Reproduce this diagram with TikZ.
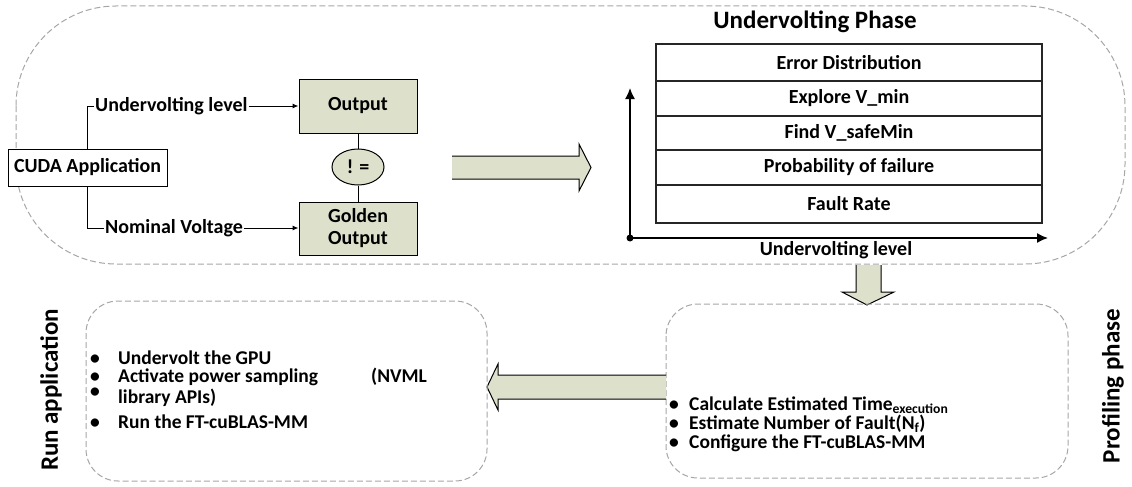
\documentclass[tikz,border=0pt]{standalone}
\usepackage{fontspec}
\setmainfont{Carlito}
\usetikzlibrary{arrows.meta,shapes.geometric}
\definecolor{sage}{HTML}{DDE0CB}
\definecolor{dashgray}{HTML}{A6A6A6}
\begin{document}
\begin{tikzpicture}[x=1pt,y=-1pt,
  every node/.style={font=\fontsize{20}{20}\selectfont\bfseries, inner sep=0pt},
  phasebox/.style={draw=dashgray, line width=1pt, dash pattern=on 6pt off 3pt},
  plainbox/.style={draw, line width=1pt, fill=white},
  sagebox/.style={draw, line width=1pt, fill=sage, align=center},
  rowbox/.style={draw=black!85, line width=1.3pt, minimum width=386pt},
  link/.style={line width=1pt},
  linkarrow/.style={line width=1pt, -{Latex[length=6pt,width=5pt]}},
  axis/.style={line width=1.5pt, -{Latex[length=11pt,width=10pt]}},
  bigtitle/.style={font=\fontsize{25}{25}\selectfont\bfseries},
  listtext/.style={anchor=base west, font=\fontsize{19.5}{19.5}\selectfont\bfseries},
  dot/.style={anchor=base, text height=10pt, text depth=0pt, font=\fontsize{19.5}{19.5}\selectfont\bfseries},
  fatarrow/.style={fill=sage, draw=none},
  fatedge/.style={draw, line width=1pt, line join=miter},
]
\useasboundingbox (0,0) rectangle (1132,487);

% ---- undervolting phase frame ----
\draw[phasebox, rounded corners=100pt] (16,6) rectangle (1125,264);

% application and the two runs
\node[plainbox, minimum width=159pt, minimum height=37pt] (cuda) at (87.5,167.5) {CUDA Application};
\node[sagebox, minimum width=118pt, minimum height=54pt] (out) at (358,106) {Output};
\node[sagebox, minimum width=118pt, minimum height=53pt] (gold) at (358,228.5) {Golden\\[2pt]Output};
\node[ellipse, draw, line width=1pt, fill=sage, minimum width=52pt, minimum height=36pt] (neq) at (358,167) {! =};

\node[anchor=west, inner xsep=1pt] (ul) at (94,106) {Undervolting level};
\node[anchor=west, inner xsep=1pt] (nv) at (104,228) {Nominal Voltage};

\draw[link] (cuda.north) |- (ul.west);
\draw[link] (cuda.south) |- (nv.west);
\draw[linkarrow] (ul.east) -- (out.west |- ul.east);
\draw[linkarrow] (nv.east) -- (gold.west |- nv.east);
\draw[link] (out.south) -- (neq.north);
\draw[link] (neq.south) -- (gold.north);

% fat arrow to the chart
\path[fatarrow] (452,156) -- (579,156) -- (579,144) -- (591,167.5) -- (579,191) -- (579,179) -- (452,179) -- cycle;
\draw[fatedge] (452,156) -- (579,156) -- (579,144) -- (591,167.5) -- (579,191) -- (579,179) -- (452,179);

% chart
\node[bigtitle] (title) at (815,22) {Undervolting Phase};
\node[rowbox, minimum height=37pt] (r1) at (849,62.5) {Error Distribution};
\node[rowbox, minimum height=35pt] (r2) at (849,98.5) {Explore V\_min};
\node[rowbox, minimum height=34pt] (r3) at (849,133) {Find V\_safeMin};
\node[rowbox, minimum height=35pt] (r4) at (849,167.5) {Probability of failure};
\node[rowbox, minimum height=38pt] (r5) at (849,204) {Fault Rate};

\coordinate (origin) at (630,238);
\coordinate (ytip) at (630,88);
\coordinate (xtip) at (1048,238);
\draw[axis] (origin) -- (ytip);
\draw[axis] (origin) -- (xtip);
\fill (origin) circle (3.5pt);
\node (xlabel) at (836,250) {Undervolting level};

% fat arrow down to profiling
\path[fatarrow] (856,265) -- (856,292) -- (842,292) -- (867,305) -- (894,292) -- (881,292) -- (881,265) -- cycle;
\draw[fatedge] (856,265) -- (856,292) -- (842,292) -- (867,305) -- (894,292) -- (881,292) -- (881,265);

% ---- profiling phase ----
\draw[phasebox, rounded corners=32pt] (666,304) rectangle (1068,478);
\node[dot] at (674,410) {\textbullet};
\node[listtext] (p1) at (689,410) {Calculate Estimated Time\textsubscript{execution}};
\node[dot] at (674,429) {\textbullet};
\node[listtext] (p2) at (689,429) {Estimate Number of Fault(N\textsubscript{f})};
\node[dot] at (674,448) {\textbullet};
\node[listtext] (p3) at (689,448) {Configure the FT-cuBLAS-MM};
\node[bigtitle, rotate=90] (prof) at (1113,386) {Profiling phase};

% fat arrow back to the run box
\path[fatarrow] (666,375) -- (498,375) -- (498,364) -- (487,387) -- (498,410) -- (498,399) -- (666,399) -- cycle;
\draw[fatedge] (666,375) -- (498,375) -- (498,364) -- (487,387) -- (498,410) -- (498,399) -- (666,399);

% ---- run application ----
\draw[phasebox, rounded corners=32pt] (86,301) rectangle (487,481);
\node[dot] at (95,364) {\textbullet};
\node[listtext] (a1) at (118,364) {Undervolt the GPU};
\node[dot] at (95,382) {\textbullet};
\node[listtext] (a2) at (118,382) {Activate power sampling};
\node[listtext] (a2b) at (371,382) {(NVML};
\node[dot] at (95,397) {\textbullet};
\node[listtext] (a3) at (118,403) {library APIs)};
\node[dot] at (95,428) {\textbullet};
\node[listtext] (a4) at (118,428) {Run the FT-cuBLAS-MM};
\node[bigtitle, rotate=90] (run) at (51,390) {Run application};
\end{tikzpicture}
\end{document}
